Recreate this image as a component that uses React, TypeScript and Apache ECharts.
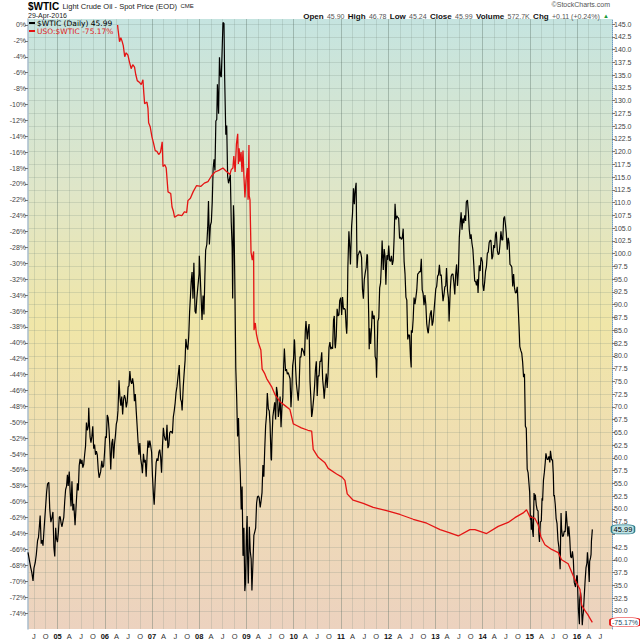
import React, { useEffect, useRef } from 'react';
import * as echarts from 'echarts';

type Pt = [string, number];

// $WTIC daily spot price (right axis)
const WTIC_2004: Pt[] = [
  ['2004-05-17', 41.5], ['2004-05-28', 39.9], ['2004-06-07', 38.5], ['2004-06-15', 37.6], ['2004-06-25', 35.9],
  ['2004-07-02', 38.4], ['2004-07-12', 39.5], ['2004-07-20', 41.0], ['2004-07-30', 43.8], ['2004-08-06', 44.4],
  ['2004-08-13', 46.6], ['2004-08-19', 48.7], ['2004-08-27', 43.2], ['2004-09-03', 43.9], ['2004-09-10', 42.8],
  ['2004-09-17', 45.6], ['2004-09-28', 49.6], ['2004-10-08', 53.3], ['2004-10-15', 54.9], ['2004-10-25', 55.2],
  ['2004-11-01', 50.1], ['2004-11-10', 47.4], ['2004-11-19', 48.4], ['2004-11-26', 49.4], ['2004-12-03', 42.5],
  ['2004-12-10', 40.7], ['2004-12-17', 46.3], ['2004-12-23', 44.2], ['2004-12-31', 43.5],
];
const WTIC_2005: Pt[] = [
  ['2005-01-07', 45.4], ['2005-01-14', 48.4], ['2005-01-21', 48.5], ['2005-01-28', 47.2], ['2005-02-04', 46.5],
  ['2005-02-11', 47.5], ['2005-02-18', 48.4], ['2005-02-25', 51.5], ['2005-03-04', 53.8], ['2005-03-11', 54.4],
  ['2005-03-18', 56.7], ['2005-03-24', 54.5], ['2005-04-01', 57.3], ['2005-04-08', 53.3], ['2005-04-15', 50.5],
  ['2005-04-22', 55.4], ['2005-04-29', 49.7], ['2005-05-06', 51.0], ['2005-05-16', 46.8], ['2005-05-27', 51.9],
  ['2005-06-03', 55.0], ['2005-06-10', 53.6], ['2005-06-17', 58.5], ['2005-06-24', 59.8], ['2005-07-01', 58.8],
  ['2005-07-08', 59.6], ['2005-07-15', 58.1], ['2005-07-22', 58.7], ['2005-07-29', 60.6], ['2005-08-05', 62.3],
  ['2005-08-12', 66.9], ['2005-08-19', 65.4], ['2005-08-26', 66.1], ['2005-08-30', 69.8], ['2005-09-02', 67.6],
  ['2005-09-09', 64.1], ['2005-09-16', 63.0], ['2005-09-23', 64.2], ['2005-09-30', 66.2], ['2005-10-07', 61.8],
  ['2005-10-14', 62.6], ['2005-10-21', 60.6], ['2005-10-28', 61.3], ['2005-11-04', 60.6], ['2005-11-11', 57.8],
  ['2005-11-18', 56.1], ['2005-11-30', 57.3], ['2005-12-09', 59.4], ['2005-12-16', 58.1], ['2005-12-23', 58.4],
  ['2005-12-30', 61.0],
];
const WTIC_2006: Pt[] = [
  ['2006-01-06', 64.2], ['2006-01-13', 63.9], ['2006-01-20', 68.4], ['2006-01-27', 67.8], ['2006-02-03', 65.4],
  ['2006-02-10', 61.8], ['2006-02-16', 57.7], ['2006-02-24', 62.9], ['2006-03-03', 63.7], ['2006-03-10', 59.9],
  ['2006-03-17', 62.7], ['2006-03-24', 64.3], ['2006-03-31', 66.6], ['2006-04-07', 67.4], ['2006-04-13', 69.3],
  ['2006-04-21', 75.2], ['2006-04-28', 71.9], ['2006-05-05', 70.2], ['2006-05-12', 72.0], ['2006-05-19', 68.5],
  ['2006-05-26', 71.4], ['2006-06-02', 72.3], ['2006-06-09', 71.6], ['2006-06-16', 69.9], ['2006-06-23', 70.9],
  ['2006-06-30', 73.9], ['2006-07-07', 74.1], ['2006-07-14', 77.0], ['2006-07-21', 75.0], ['2006-07-28', 74.5],
  ['2006-08-04', 75.6], ['2006-08-11', 74.4], ['2006-08-18', 71.1], ['2006-08-25', 72.5], ['2006-09-01', 69.2],
  ['2006-09-08', 66.3], ['2006-09-15', 63.3], ['2006-09-22', 60.6], ['2006-09-29', 62.9], ['2006-10-06', 59.8],
  ['2006-10-13', 58.6], ['2006-10-19', 57.0], ['2006-10-27', 60.8], ['2006-11-03', 59.1], ['2006-11-10', 59.6],
  ['2006-11-17', 56.3], ['2006-11-24', 60.3], ['2006-12-01', 63.4], ['2006-12-08', 62.0], ['2006-12-15', 63.4],
  ['2006-12-22', 62.4], ['2006-12-29', 61.1],
];
const WTIC_2007: Pt[] = [
  ['2007-01-05', 56.3], ['2007-01-12', 52.9], ['2007-01-18', 50.8], ['2007-01-26', 55.4], ['2007-02-02', 59.0],
  ['2007-02-09', 59.9], ['2007-02-16', 59.4], ['2007-02-23', 61.1], ['2007-03-02', 61.6], ['2007-03-09', 60.1],
  ['2007-03-16', 57.1], ['2007-03-23', 62.3], ['2007-03-30', 65.9], ['2007-04-06', 64.3], ['2007-04-13', 63.6],
  ['2007-04-20', 63.4], ['2007-04-27', 66.5], ['2007-05-04', 61.9], ['2007-05-11', 62.4], ['2007-05-18', 64.9],
  ['2007-05-25', 65.2], ['2007-06-01', 65.1], ['2007-06-08', 64.8], ['2007-06-15', 68.0], ['2007-06-22', 69.2],
  ['2007-06-29', 70.7], ['2007-07-06', 72.8], ['2007-07-13', 73.9], ['2007-07-20', 75.6], ['2007-07-31', 78.2],
  ['2007-08-03', 75.5], ['2007-08-10', 71.5], ['2007-08-17', 71.0], ['2007-08-22', 69.3], ['2007-08-31', 74.0],
  ['2007-09-07', 76.7], ['2007-09-14', 79.1], ['2007-09-20', 83.3], ['2007-09-28', 81.7], ['2007-10-05', 81.2],
  ['2007-10-12', 83.7], ['2007-10-19', 88.6], ['2007-10-26', 91.9], ['2007-10-31', 94.5], ['2007-11-07', 96.4],
  ['2007-11-14', 91.2], ['2007-11-21', 98.2], ['2007-11-30', 88.7], ['2007-12-07', 88.3], ['2007-12-14', 91.3],
  ['2007-12-21', 93.3], ['2007-12-31', 96.0],
];
const WTIC_2008: Pt[] = [
  ['2008-01-02', 99.6], ['2008-01-09', 95.7], ['2008-01-15', 91.9], ['2008-01-23', 87.0], ['2008-01-31', 91.8],
  ['2008-02-07', 88.1], ['2008-02-14', 95.5], ['2008-02-20', 100.7], ['2008-02-29', 101.8], ['2008-03-07', 105.2],
  ['2008-03-13', 110.3], ['2008-03-20', 101.8], ['2008-03-28', 105.6], ['2008-04-04', 106.2], ['2008-04-11', 110.1],
  ['2008-04-18', 116.7], ['2008-04-25', 118.5], ['2008-05-02', 116.3], ['2008-05-09', 126.0], ['2008-05-16', 126.3],
  ['2008-05-21', 133.2], ['2008-05-30', 127.4], ['2008-06-06', 138.5], ['2008-06-13', 134.9], ['2008-06-20', 134.6],
  ['2008-06-27', 140.2], ['2008-07-03', 145.3], ['2008-07-11', 145.1], ['2008-07-16', 134.6], ['2008-07-25', 123.3],
  ['2008-08-01', 125.1], ['2008-08-08', 115.2], ['2008-08-15', 113.8], ['2008-08-22', 114.6], ['2008-08-29', 115.5],
  ['2008-09-05', 106.2], ['2008-09-12', 101.2], ['2008-09-16', 91.2], ['2008-09-22', 109.5], ['2008-09-26', 106.9],
  ['2008-10-03', 93.9], ['2008-10-10', 77.7], ['2008-10-17', 71.9], ['2008-10-24', 64.2], ['2008-10-31', 67.8],
  ['2008-11-07', 61.0], ['2008-11-14', 57.0], ['2008-11-21', 49.9], ['2008-11-28', 54.4], ['2008-12-05', 40.8],
  ['2008-12-12', 46.3], ['2008-12-19', 33.9], ['2008-12-24', 35.4], ['2008-12-31', 44.6],
];
const WTIC_2009: Pt[] = [
  ['2009-01-06', 48.6], ['2009-01-09', 40.8], ['2009-01-15', 35.4], ['2009-01-23', 46.5], ['2009-01-30', 41.7],
  ['2009-02-06', 40.2], ['2009-02-12', 34.0], ['2009-02-20', 39.5], ['2009-02-27', 44.8], ['2009-03-06', 45.5],
  ['2009-03-13', 46.3], ['2009-03-20', 51.1], ['2009-03-27', 52.4], ['2009-04-03', 52.5], ['2009-04-09', 52.2],
  ['2009-04-17', 50.3], ['2009-04-24', 51.6], ['2009-05-01', 53.2], ['2009-05-08', 58.6], ['2009-05-15', 56.3],
  ['2009-05-22', 61.7], ['2009-05-29', 66.3], ['2009-06-05', 68.4], ['2009-06-11', 72.7], ['2009-06-19', 69.6],
  ['2009-06-26', 69.2], ['2009-07-02', 66.7], ['2009-07-10', 59.9], ['2009-07-13', 59.5], ['2009-07-17', 63.6],
  ['2009-07-24', 68.1], ['2009-07-31', 69.5], ['2009-08-07', 70.9], ['2009-08-14', 67.5], ['2009-08-21', 73.9],
  ['2009-08-28', 72.7], ['2009-09-04', 68.0], ['2009-09-11', 69.3], ['2009-09-18', 72.0], ['2009-09-25', 66.0],
  ['2009-10-02', 69.9], ['2009-10-09', 71.8], ['2009-10-16', 78.5], ['2009-10-21', 81.4], ['2009-10-30', 77.0],
  ['2009-11-06', 77.4], ['2009-11-13', 76.4], ['2009-11-20', 76.7], ['2009-11-27', 76.1], ['2009-12-04', 75.5],
  ['2009-12-11', 69.9], ['2009-12-18', 73.4], ['2009-12-24', 78.1], ['2009-12-31', 79.4],
];
const WTIC_2010: Pt[] = [
  ['2010-01-06', 83.2], ['2010-01-08', 82.8], ['2010-01-15', 78.0], ['2010-01-22', 74.5], ['2010-01-29', 72.9],
  ['2010-02-05', 71.2], ['2010-02-12', 74.1], ['2010-02-19', 79.8], ['2010-02-26', 79.7], ['2010-03-05', 81.5],
  ['2010-03-12', 81.2], ['2010-03-19', 80.7], ['2010-03-26', 80.0], ['2010-04-01', 84.9], ['2010-04-06', 86.8],
  ['2010-04-16', 83.2], ['2010-04-23', 85.1], ['2010-04-30', 86.2], ['2010-05-07', 75.1], ['2010-05-14', 71.6],
  ['2010-05-20', 68.0], ['2010-05-25', 68.8], ['2010-06-04', 71.5], ['2010-06-11', 73.8], ['2010-06-18', 77.2],
  ['2010-06-25', 78.9], ['2010-07-02', 72.1], ['2010-07-09', 76.1], ['2010-07-16', 76.0], ['2010-07-23', 78.9],
  ['2010-07-30', 78.9], ['2010-08-06', 80.7], ['2010-08-13', 75.4], ['2010-08-20', 73.5], ['2010-08-25', 71.6],
  ['2010-09-03', 74.6], ['2010-09-10', 76.5], ['2010-09-17', 73.7], ['2010-09-24', 76.5], ['2010-10-01', 81.6],
  ['2010-10-08', 82.7], ['2010-10-15', 81.3], ['2010-10-22', 81.7], ['2010-10-29', 81.4], ['2010-11-05', 87.0],
  ['2010-11-11', 87.8], ['2010-11-16', 82.3], ['2010-11-19', 81.5], ['2010-11-26', 83.8], ['2010-12-03', 89.2],
  ['2010-12-10', 87.8], ['2010-12-17', 88.0], ['2010-12-23', 90.8], ['2010-12-31', 91.4],
];
const WTIC_2011: Pt[] = [
  ['2011-01-07', 88.0], ['2011-01-14', 91.5], ['2011-01-21', 89.1], ['2011-01-28', 89.3], ['2011-02-04', 89.0],
  ['2011-02-11', 85.6], ['2011-02-15', 84.3], ['2011-02-18', 86.2], ['2011-02-24', 97.3], ['2011-03-04', 104.4],
  ['2011-03-11', 101.2], ['2011-03-16', 97.9], ['2011-03-25', 105.4], ['2011-04-01', 107.9], ['2011-04-08', 112.8],
  ['2011-04-15', 109.7], ['2011-04-21', 112.3], ['2011-04-29', 113.9], ['2011-05-06', 97.2], ['2011-05-13', 99.7],
  ['2011-05-20', 100.1], ['2011-05-27', 100.6], ['2011-06-03', 100.2], ['2011-06-10', 99.3], ['2011-06-17', 93.0],
  ['2011-06-24', 91.2], ['2011-07-01', 94.9], ['2011-07-08', 96.2], ['2011-07-15', 97.2], ['2011-07-22', 99.9],
  ['2011-07-26', 99.6], ['2011-08-05', 86.9], ['2011-08-08', 81.3], ['2011-08-12', 85.4], ['2011-08-19', 82.3],
  ['2011-08-26', 85.4], ['2011-08-31', 88.8], ['2011-09-09', 87.2], ['2011-09-16', 87.9], ['2011-09-23', 79.9],
  ['2011-09-30', 79.2], ['2011-10-04', 75.7], ['2011-10-14', 86.8], ['2011-10-21', 87.4], ['2011-10-28', 93.3],
  ['2011-11-04', 94.3], ['2011-11-10', 97.8], ['2011-11-16', 102.6], ['2011-11-25', 96.8], ['2011-12-02', 100.9],
  ['2011-12-09', 99.4], ['2011-12-15', 93.9], ['2011-12-23', 99.7], ['2011-12-30', 98.8],
];
const WTIC_2012: Pt[] = [
  ['2012-01-06', 101.6], ['2012-01-13', 98.7], ['2012-01-20', 98.5], ['2012-01-27', 99.6], ['2012-02-03', 97.8],
  ['2012-02-10', 98.7], ['2012-02-17', 103.2], ['2012-02-24', 109.8], ['2012-03-02', 106.7], ['2012-03-09', 107.4],
  ['2012-03-16', 107.1], ['2012-03-23', 106.9], ['2012-03-30', 103.0], ['2012-04-06', 103.3], ['2012-04-13', 102.8],
  ['2012-04-20', 103.1], ['2012-04-27', 104.9], ['2012-05-04', 98.5], ['2012-05-11', 96.1], ['2012-05-18', 91.5],
  ['2012-05-25', 90.9], ['2012-06-01', 83.2], ['2012-06-08', 84.1], ['2012-06-15', 84.0], ['2012-06-22', 79.8],
  ['2012-06-28', 77.7], ['2012-06-29', 85.0], ['2012-07-06', 84.5], ['2012-07-13', 87.1], ['2012-07-20', 91.4],
  ['2012-07-27', 90.1], ['2012-08-03', 91.4], ['2012-08-10', 92.9], ['2012-08-17', 96.0], ['2012-08-24', 96.2],
  ['2012-08-31', 96.5], ['2012-09-07', 96.4], ['2012-09-14', 99.0], ['2012-09-21', 92.9], ['2012-09-28', 92.2],
  ['2012-10-05', 89.9], ['2012-10-12', 91.9], ['2012-10-19', 90.1], ['2012-10-26', 86.3], ['2012-11-02', 84.9],
  ['2012-11-07', 84.4], ['2012-11-16', 86.9], ['2012-11-23', 88.3], ['2012-11-30', 88.9], ['2012-12-07', 85.9],
  ['2012-12-14', 86.7], ['2012-12-21', 88.7], ['2012-12-31', 91.8],
];
const WTIC_2013: Pt[] = [
  ['2013-01-04', 93.1], ['2013-01-11', 93.6], ['2013-01-18', 95.6], ['2013-01-25', 95.9], ['2013-02-01', 97.8],
  ['2013-02-08', 95.7], ['2013-02-15', 95.9], ['2013-02-22', 93.1], ['2013-03-01', 90.7], ['2013-03-08', 91.9],
  ['2013-03-15', 93.5], ['2013-03-22', 93.7], ['2013-03-28', 97.2], ['2013-04-05', 92.7], ['2013-04-12', 91.3],
  ['2013-04-17', 86.7], ['2013-04-26', 93.0], ['2013-05-03', 95.6], ['2013-05-10', 96.0], ['2013-05-17', 96.0],
  ['2013-05-24', 94.2], ['2013-05-31', 92.0], ['2013-06-07', 96.0], ['2013-06-14', 97.9], ['2013-06-21', 93.7],
  ['2013-06-28', 96.6], ['2013-07-05', 103.2], ['2013-07-12', 105.9], ['2013-07-19', 108.1], ['2013-07-26', 104.7],
  ['2013-08-02', 106.9], ['2013-08-09', 106.0], ['2013-08-16', 107.5], ['2013-08-23', 106.4], ['2013-08-28', 110.1],
  ['2013-09-06', 110.5], ['2013-09-13', 108.2], ['2013-09-20', 104.7], ['2013-09-27', 102.9], ['2013-10-04', 103.8],
  ['2013-10-11', 102.0], ['2013-10-18', 100.8], ['2013-10-25', 97.9], ['2013-11-01', 94.6], ['2013-11-08', 94.6],
  ['2013-11-15', 93.8], ['2013-11-22', 95.0], ['2013-11-27', 92.3], ['2013-12-06', 97.7], ['2013-12-13', 96.6],
  ['2013-12-20', 99.3], ['2013-12-31', 98.4],
];
const WTIC_2014: Pt[] = [
  ['2014-01-03', 94.0], ['2014-01-10', 92.7], ['2014-01-17', 94.4], ['2014-01-24', 96.6], ['2014-01-31', 97.5],
  ['2014-02-07', 100.1], ['2014-02-14', 100.3], ['2014-02-21', 102.2], ['2014-02-28', 102.6], ['2014-03-07', 102.6],
  ['2014-03-14', 98.9], ['2014-03-21', 99.5], ['2014-03-28', 101.7], ['2014-04-04', 101.1], ['2014-04-11', 103.7],
  ['2014-04-17', 104.3], ['2014-04-25', 100.6], ['2014-05-02', 99.8], ['2014-05-09', 100.0], ['2014-05-16', 102.0],
  ['2014-05-23', 104.4], ['2014-05-30', 102.7], ['2014-06-06', 102.7], ['2014-06-13', 106.9], ['2014-06-20', 107.3],
  ['2014-06-27', 105.7], ['2014-07-03', 104.1], ['2014-07-11', 100.8], ['2014-07-18', 103.1], ['2014-07-25', 102.1],
  ['2014-08-01', 97.9], ['2014-08-08', 97.7], ['2014-08-15', 97.4], ['2014-08-22', 93.6], ['2014-08-29', 96.0],
  ['2014-09-05', 93.3], ['2014-09-12', 92.3], ['2014-09-19', 92.4], ['2014-09-26', 93.5], ['2014-10-03', 89.7],
  ['2014-10-10', 85.8], ['2014-10-16', 81.8], ['2014-10-24', 81.0], ['2014-10-31', 80.5], ['2014-11-07', 78.7],
  ['2014-11-14', 75.8], ['2014-11-21', 76.5], ['2014-11-28', 66.2], ['2014-12-05', 65.8], ['2014-12-12', 57.8],
  ['2014-12-19', 57.1], ['2014-12-31', 53.3],
];
const WTIC_2015: Pt[] = [
  ['2015-01-06', 47.9], ['2015-01-09', 48.4], ['2015-01-13', 45.9], ['2015-01-16', 48.7], ['2015-01-23', 45.6],
  ['2015-01-28', 44.5], ['2015-02-03', 53.1], ['2015-02-06', 51.7], ['2015-02-13', 52.8], ['2015-02-20', 50.8],
  ['2015-02-27', 49.8], ['2015-03-06', 49.6], ['2015-03-13', 44.8], ['2015-03-17', 43.5], ['2015-03-24', 47.5],
  ['2015-03-31', 47.6], ['2015-04-06', 52.1], ['2015-04-10', 51.6], ['2015-04-17', 55.7], ['2015-04-24', 57.2],
  ['2015-05-01', 59.2], ['2015-05-06', 60.9], ['2015-05-15', 59.7], ['2015-05-22', 59.7], ['2015-05-29', 60.3],
  ['2015-06-05', 59.1], ['2015-06-10', 61.4], ['2015-06-19', 59.6], ['2015-06-26', 59.6], ['2015-07-02', 56.9],
  ['2015-07-06', 52.5], ['2015-07-10', 52.7], ['2015-07-17', 50.9], ['2015-07-24', 48.1], ['2015-07-31', 47.1],
  ['2015-08-07', 43.9], ['2015-08-14', 42.5], ['2015-08-24', 38.2], ['2015-08-28', 45.2], ['2015-08-31', 49.2],
  ['2015-09-04', 46.1], ['2015-09-11', 44.6], ['2015-09-18', 44.7], ['2015-09-25', 45.7], ['2015-10-02', 45.5],
  ['2015-10-09', 49.6], ['2015-10-16', 47.3], ['2015-10-23', 44.6], ['2015-10-30', 46.6], ['2015-11-06', 44.3],
  ['2015-11-13', 40.7], ['2015-11-20', 40.4], ['2015-11-27', 41.7], ['2015-12-04', 40.0], ['2015-12-11', 35.6],
  ['2015-12-21', 34.7], ['2015-12-31', 37.0],
];
const WTIC_2016: Pt[] = [
  ['2016-01-04', 36.8], ['2016-01-08', 33.2], ['2016-01-12', 30.4], ['2016-01-20', 27.4], ['2016-01-22', 32.2],
  ['2016-01-29', 33.6], ['2016-02-03', 32.3], ['2016-02-11', 27.2], ['2016-02-16', 29.0], ['2016-02-19', 29.6],
  ['2016-02-26', 32.8], ['2016-03-04', 35.9], ['2016-03-11', 38.5], ['2016-03-18', 39.4], ['2016-03-22', 41.5],
  ['2016-03-31', 38.3], ['2016-04-05', 35.7], ['2016-04-08', 39.7], ['2016-04-15', 40.4], ['2016-04-19', 41.1],
  ['2016-04-22', 43.7], ['2016-04-27', 45.3], ['2016-04-29', 45.99],
];

// USO:$WTIC relative performance, % (left axis)
const USO_WTIC_2006_2008: Pt[] = [
  ['2006-04-10', 0], ['2006-04-13', -0.5], ['2006-04-25', -2.1], ['2006-05-05', -1.6], ['2006-05-14', -2.0],
  ['2006-05-24', -2.6], ['2006-06-04', -4.0], ['2006-06-15', -3.5], ['2006-06-29', -3.8], ['2006-07-10', -4.6],
  ['2006-07-24', -5.5], ['2006-08-05', -5.0], ['2006-08-19', -5.3], ['2006-08-28', -6.2], ['2006-09-09', -7.0],
  ['2006-09-25', -7.2], ['2006-10-10', -7.5], ['2006-10-23', -6.9], ['2006-10-30', -8.6], ['2006-11-05', -9.9],
  ['2006-11-23', -9.7], ['2006-12-01', -10.5], ['2006-12-06', -12.3], ['2006-12-18', -12.8], ['2007-01-01', -14.1],
  ['2007-01-12', -14.8], ['2007-01-26', -15.8], ['2007-02-08', -15.9], ['2007-02-22', -16.3], ['2007-03-08', -16.0],
  ['2007-03-21', -14.7], ['2007-03-27', -17.8], ['2007-04-10', -17.6], ['2007-04-21', -18.0], ['2007-04-28', -19.5],
  ['2007-05-05', -21.0], ['2007-05-26', -21.2], ['2007-06-05', -22.9], ['2007-06-15', -23.4], ['2007-06-25', -24.2],
  ['2007-07-21', -23.9], ['2007-08-20', -24.0], ['2007-09-10', -23.5], ['2007-09-26', -23.6], ['2007-10-06', -22.1],
  ['2007-10-25', -21.8], ['2007-11-15', -21.0], ['2007-12-12', -20.2], ['2008-01-15', -20.3], ['2008-02-10', -19.9],
  ['2008-03-09', -19.7], ['2008-04-05', -19.0], ['2008-05-02', -18.5], ['2008-06-01', -18.3], ['2008-07-03', -18.0],
  ['2008-07-28', -18.4], ['2008-08-26', -18.8], ['2008-09-05', -18.2], ['2008-09-18', -18.0], ['2008-09-25', -16.5],
  ['2008-10-05', -18.5], ['2008-10-15', -15.0], ['2008-10-25', -13.7], ['2008-10-30', -17.5], ['2008-11-05', -15.5],
  ['2008-11-11', -17.2], ['2008-11-20', -16.0], ['2008-11-27', -18.5], ['2008-12-05', -15.8], ['2008-12-12', -19.0],
  ['2008-12-20', -21.7], ['2008-12-28', -19.5],
];
const USO_WTIC_2009_2016: Pt[] = [
  ['2009-01-08', -18.0], ['2009-01-13', -22.0], ['2009-01-20', -15.1], ['2009-01-22', -21.5], ['2009-01-28', -22.0],
  ['2009-02-05', -28.6], ['2009-02-15', -29.6], ['2009-02-25', -28.5], ['2009-02-28', -38.4], ['2009-03-10', -37.5],
  ['2009-03-19', -38.9], ['2009-04-01', -39.9], ['2009-04-22', -40.9], ['2009-05-02', -43.3], ['2009-05-20', -43.8],
  ['2009-06-06', -44.5], ['2009-07-14', -45.5], ['2009-08-09', -46.5], ['2009-09-17', -47.4], ['2009-10-26', -47.9],
  ['2009-12-03', -48.4], ['2009-12-29', -50.2], ['2010-01-24', -50.4], ['2010-03-01', -50.7], ['2010-04-21', -51.0],
  ['2010-05-20', -51.1], ['2010-06-01', -53.4], ['2010-07-10', -54.4], ['2010-08-31', -55.1], ['2010-09-25', -55.8],
  ['2010-11-29', -56.5], ['2011-01-10', -56.9], ['2011-02-01', -57.3], ['2011-02-19', -59.0], ['2011-04-06', -59.8],
  ['2011-06-23', -60.2], ['2011-09-08', -60.7], ['2011-12-20', -61.1], ['2012-04-02', -61.6], ['2012-07-14', -62.2],
  ['2012-10-26', -62.7], ['2013-02-06', -63.5], ['2013-04-23', -63.9], ['2013-06-27', -64.3], ['2013-09-25', -63.5],
  ['2013-11-03', -63.5], ['2014-02-01', -64.0], ['2014-05-02', -63.1], ['2014-07-18', -62.6], ['2014-09-08', -62.0],
  ['2014-11-11', -61.4], ['2014-12-07', -61.0], ['2015-01-02', -61.9], ['2015-02-10', -62.1], ['2015-03-07', -62.9],
  ['2015-03-28', -64.4], ['2015-04-28', -65.4], ['2015-06-19', -66.0], ['2015-08-09', -66.4], ['2015-09-04', -67.3],
  ['2015-10-25', -67.8], ['2015-11-20', -68.8], ['2015-12-16', -69.8], ['2016-01-24', -71.0], ['2016-02-06', -73.0],
  ['2016-03-03', -73.7], ['2016-03-25', -74.2], ['2016-04-15', -74.8], ['2016-04-29', -75.17],
];

// Axis ticks
const LEFT_TICKS: number[] = [0, -2, -4, -6, -8, -10, -12, -14, -16, -18, -20, -22, -24, -26, -28, -30, -32, -34, -36, -38,
  -40, -42, -44, -46, -48, -50, -52, -54, -56, -58, -60, -62, -64, -66, -68, -70, -72, -74];
const RIGHT_TICKS: number[] = [30, 32.5, 35, 37.5, 40, 42.5, 45, 47.5, 50, 52.5, 55, 57.5, 60, 62.5, 65, 67.5, 70, 72.5, 75,
  77.5, 80, 82.5, 85, 87.5, 90, 92.5, 95, 97.5, 100, 102.5, 105, 107.5, 110, 112.5, 115, 117.5, 120, 122.5, 125, 127.5,
  130, 132.5, 135, 137.5, 140, 142.5, 145];
// 45.0 is covered by the last-value badge in the original
const RIGHT_LABELS: number[] = RIGHT_TICKS.filter((v) => v !== 45);
const QUARTER_STARTS: string[] = [];
for (let y = 2004; y <= 2016; y++) {
  for (const m of ['01', '04', '07', '10']) {
    const s = `${y}-${m}-01`;
    if (s >= '2004-06-01' && s <= '2016-08-01') QUARTER_STARTS.push(s);
  }
}
const MONTH_LETTER: Record<number, string> = { 3: 'A', 6: 'J', 9: 'O' };
const X_MIN = '2004-05-17';
const X_MAX = '2016-09-28';
const LAST_WTIC = 45.99;
const LAST_RATIO = -75.17;

const FONT = '"Liberation Sans", Arial, sans-serif';

function toTs(s: string): number {
  const [y, m, d] = s.split('-').map(Number);
  return Date.UTC(y, m - 1, d);
}

export default function App() {
  const ref = useRef<HTMLDivElement>(null);
  useEffect(() => {
    if (!ref.current) return;
    const chart = echarts.init(ref.current, undefined, { renderer: 'svg' });
    const quarterTs = QUARTER_STARTS.map(toTs);
    const conv = (arr: Pt[]) => arr.map(([d, v]) => [toTs(d), v]);
    const wtic = conv([...WTIC_2004, ...WTIC_2005, ...WTIC_2006, ...WTIC_2007, ...WTIC_2008, ...WTIC_2009, ...WTIC_2010,
      ...WTIC_2011, ...WTIC_2012, ...WTIC_2013, ...WTIC_2014, ...WTIC_2015, ...WTIC_2016]);
    const ratio = conv([...USO_WTIC_2006_2008, ...USO_WTIC_2009_2016]);
    const xMaxTs = toTs(X_MAX);
    const lightGrid = 'rgba(110,130,120,0.2)';
    const darkGrid = 'rgba(90,110,100,0.38)';

    const option: any = {
      animation: false,
      backgroundColor: '#ffffff',
      textStyle: { fontFamily: FONT },
      grid: {
        left: 28, right: 28, top: 19, bottom: 11,
        show: true,
        borderWidth: 0,
        backgroundColor: new echarts.graphic.LinearGradient(0, 0, 0, 1, [
          { offset: 0, color: '#c5e4e0' },
          { offset: 0.28, color: '#dfe6c8' },
          { offset: 0.5, color: '#f0e6a8' },
          { offset: 0.75, color: '#efdcb4' },
          { offset: 1, color: '#ecd2bf' },
        ]),
      },
      legend: {
        left: 29, top: 19, orient: 'vertical', itemWidth: 6, itemHeight: 2, itemGap: 0, padding: 0,
        icon: 'rect', selectedMode: false,
        textStyle: { fontSize: 7.5, fontFamily: '"DejaVu Sans", sans-serif', padding: [0, 0, 0, -3] },
        data: [
          { name: '$WTIC (Daily) 45.99', textStyle: { color: '#000' } },
          { name: 'USO:$WTIC -75.17%', textStyle: { color: '#e02020' } },
        ],
      },
      xAxis: {
        type: 'value', min: toTs(X_MIN), max: xMaxTs,
        axisLine: { show: false },
        axisTick: { show: false, customValues: quarterTs },
        axisLabel: {
          customValues: quarterTs,
          fontSize: 7.5, color: '#333', margin: 3, hideOverlap: false,
          formatter: (v: number) => {
            const d = new Date(v);
            const m = d.getUTCMonth();
            if (m === 0) return '{b|' + String(d.getUTCFullYear() % 100).padStart(2, '0') + '}';
            return MONTH_LETTER[m] || '';
          },
          rich: { b: { fontWeight: 'bold', fontSize: 7.5, color: '#111' } },
        },
        splitLine: {
          show: true,
          lineStyle: { width: 1, color: [lightGrid, lightGrid, darkGrid, lightGrid] },
        },
      },
      yAxis: [
        {
          type: 'value', position: 'left', min: -76.01, max: 0.755,
          axisLine: { show: true, lineStyle: { color: '#a8bccc', width: 1.5 } },
          axisTick: { show: true, length: 3, customValues: LEFT_TICKS, lineStyle: { color: '#777' } },
          axisLabel: { customValues: LEFT_TICKS, fontSize: 7, color: '#444', margin: 2, formatter: (v: number) => `${v}%` },
          splitLine: { show: false },
        },
        {
          type: 'value', position: 'right', min: 26.47, max: 145.98,
          axisLine: { show: true, lineStyle: { color: '#6d9cc4', type: 'dotted', width: 1 } },
          axisTick: { show: true, length: 3, customValues: RIGHT_TICKS, lineStyle: { color: '#777' } },
          axisLabel: { customValues: RIGHT_LABELS, fontSize: 7, color: '#444', margin: 2, formatter: (v: number) => v.toFixed(1) },
          splitLine: { show: true, lineStyle: { color: lightGrid, width: 1 } },
        },
      ],
      series: [
        {
          name: '$WTIC (Daily) 45.99', type: 'line', yAxisIndex: 1, data: wtic,
          showSymbol: false, color: '#000', lineStyle: { color: '#000', width: 1.2 }, z: 3,
          markPoint: {
            silent: true,
            data: [{ coord: [xMaxTs, LAST_WTIC], value: LAST_WTIC }],
            symbol: 'roundRect', symbolSize: [23, 9], symbolOffset: [11, 0],
            itemStyle: { color: '#bfe4e6', borderColor: '#2f7d8c', borderWidth: 1 },
            label: { show: true, position: 'inside', fontSize: 7.5, color: '#000', formatter: LAST_WTIC.toFixed(2) },
          },
        },
        {
          name: 'USO:$WTIC -75.17%', type: 'line', yAxisIndex: 0, data: ratio,
          showSymbol: false, color: '#e41414', lineStyle: { color: '#e41414', width: 1.3 }, z: 4,
          markPoint: {
            silent: true,
            data: [{ coord: [xMaxTs, LAST_RATIO], value: LAST_RATIO }],
            symbol: 'roundRect', symbolSize: [30, 9], symbolOffset: [13, 0],
            itemStyle: { color: '#ffffff', borderColor: '#e41414', borderWidth: 1 },
            label: { show: true, position: 'inside', fontSize: 7, color: '#1a4f6a', formatter: `${LAST_RATIO}%` },
          },
        },
      ],
      graphic: [
        {
          type: 'text', left: 28, top: 0,
          style: {
            text: '{t|$WTIC} {s|Light Crude Oil - Spot Price (EOD)} {c|CME}',
            rich: {
              t: { fontSize: 10, fontWeight: 'bold', fill: '#000', fontFamily: FONT },
              s: { fontSize: 7.5, fill: '#222', fontFamily: FONT },
              c: { fontSize: 6, fill: '#222', fontFamily: FONT },
            },
          },
        },
        {
          type: 'text', left: 28, top: 12,
          style: { text: '29-Apr-2016', fontSize: 7, fill: '#222', fontFamily: FONT },
        },
        {
          type: 'text', right: 30, top: 1,
          style: { text: '©StockCharts.com', fontSize: 7, fill: '#555', fontFamily: FONT },
        },
        {
          type: 'text', right: 31, top: 10,
          style: {
            text: '{b|Open} {v|45.90} {b|High} {v|46.78} {b|Low} {v|45.24} {b|Close} {v|45.99} {b|Volume} {v|572.7K} {b|Chg} {v|+0.11 (+0.24%)} {g|▲}',
            rich: {
              b: { fontSize: 8, fontWeight: 'bold', fill: '#111', fontFamily: FONT },
              v: { fontSize: 7, fill: '#555', fontFamily: FONT },
              g: { fontSize: 6, fill: '#1a9a3a', fontFamily: FONT },
            },
          },
        },
      ],
    };
    chart.setOption(option);
    return () => chart.dispose();
  }, []);
  return <div ref={ref} style={{ position: 'fixed', left: 0, top: 0, width: 640, height: 640 }} />;
}
